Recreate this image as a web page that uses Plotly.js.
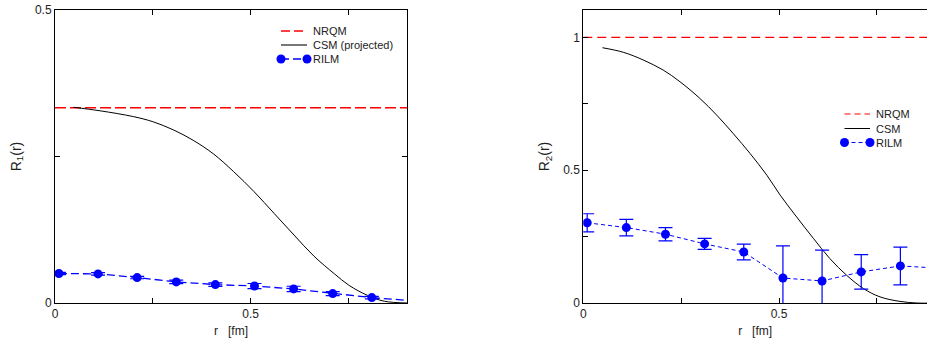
<!DOCTYPE html>
<html>
<head>
<meta charset="utf-8">
<script src="https://cdn.plot.ly/plotly-3.0.1.min.js"></script>
<style>html,body{margin:0;padding:0;overflow:hidden;background:#fff;}</style>
</head>
<body>
<div id="chart" style="width:927px;height:347px;"></div>
<script>
// ---- Left panel: R1(r) ----
const r1NrqmX = [0, 0.9];
const r1NrqmY = [0.3333, 0.3333];
const r1CsmX = [0.047, 0.115, 0.201, 0.252, 0.304, 0.355, 0.406, 0.457, 0.509, 0.560, 0.611, 0.662, 0.714, 0.752, 0.799, 0.842, 0.902];
const r1CsmY = [0.334, 0.328, 0.318, 0.309, 0.295, 0.277, 0.254, 0.224, 0.190, 0.153, 0.116, 0.080, 0.050, 0.030, 0.013, 0.003, 0.0];
const rilmR = [0.01, 0.11, 0.21, 0.31, 0.41, 0.51, 0.61, 0.71, 0.81];
const r1RilmY = [0.0503, 0.0497, 0.0434, 0.0360, 0.0314, 0.0290, 0.0240, 0.0160, 0.0092];
const r1RilmErr = [0.002, 0.002, 0.002, 0.003, 0.003, 0.0043, 0.0046, 0.0035, 0.002];
const r1RilmTailX = [0.81, 0.91];
const r1RilmTailY = [0.0092, 0.0040];

// ---- Right panel: R2(r) ----
const r2NrqmX = [0, 0.9];
const r2NrqmY = [1.0, 1.0];
const r2CsmX = [0.049, 0.102, 0.153, 0.204, 0.247, 0.298, 0.341, 0.383, 0.426, 0.469, 0.503, 0.545, 0.588, 0.630, 0.673, 0.716, 0.758, 0.809, 0.852, 0.9];
const r2CsmY = [0.961, 0.944, 0.915, 0.877, 0.833, 0.770, 0.707, 0.638, 0.563, 0.481, 0.406, 0.324, 0.243, 0.167, 0.104, 0.054, 0.023, 0.006, 0.0, 0.0];
const r2RilmY = [0.302, 0.284, 0.259, 0.2225, 0.192, 0.094, 0.083, 0.117, 0.1395];
const r2RilmErr = [0.034, 0.031, 0.025, 0.021, 0.030, 0.121, 0.116, 0.065, 0.071];
const r2RilmTailX = [0.81, 0.91];
const r2RilmTailY = [0.1395, 0.131];

// tick labels
const xTickVals = [0, 0.5];
const xTickText = ['0', '0.5'];
const y1TickVals = [0, 0.5];
const y1TickText = ['0', '0.5'];
const y2TickVals = [0, 0.5, 1];
const y2TickText = ['0', '0.5', '1'];

// legend labels
const leg1Names = ['NRQM', 'CSM (projected)', 'RILM'];
const leg2Names = ['NRQM', 'CSM', 'RILM'];

const BLUE = '#0000ff';
const RED = '#ff0000';
const FONT = 'Liberation Sans, Arial, sans-serif';

const traces = [
  {x: r1NrqmX, y: r1NrqmY, xaxis: 'x', yaxis: 'y', mode: 'lines', name: leg1Names[0],
   line: {color: RED, width: 1.6, dash: '11px,4px'}},
  {x: r1CsmX, y: r1CsmY, xaxis: 'x', yaxis: 'y', mode: 'lines', name: leg1Names[1],
   line: {color: '#000', width: 1, shape: 'spline'}},
  {x: r1RilmTailX, y: r1RilmTailY, xaxis: 'x', yaxis: 'y', mode: 'lines', name: 'RILM tail',
   line: {color: BLUE, width: 1.3, dash: '8px,4px'}},
  {x: rilmR, y: r1RilmY, xaxis: 'x', yaxis: 'y', mode: 'lines+markers', name: leg1Names[2],
   line: {color: BLUE, width: 1.3, dash: '8px,4px'},
   marker: {color: BLUE, size: 9},
   error_y: {type: 'data', array: r1RilmErr, visible: true, color: BLUE, thickness: 1.2, width: 7}},

  {x: r2NrqmX, y: r2NrqmY, xaxis: 'x2', yaxis: 'y2', mode: 'lines', name: leg2Names[0],
   line: {color: RED, width: 1.2, dash: '9px,5px'}},
  {x: r2CsmX, y: r2CsmY, xaxis: 'x2', yaxis: 'y2', mode: 'lines', name: leg2Names[1],
   line: {color: '#000', width: 1, shape: 'spline'}},
  {x: r2RilmTailX, y: r2RilmTailY, xaxis: 'x2', yaxis: 'y2', mode: 'lines', name: 'RILM tail',
   line: {color: BLUE, width: 1, dash: '4px,3px'}},
  {x: rilmR, y: r2RilmY, xaxis: 'x2', yaxis: 'y2', mode: 'lines+markers', name: leg2Names[2],
   line: {color: BLUE, width: 1, dash: '4px,3px'},
   marker: {color: BLUE, size: 9},
   error_y: {type: 'data', array: r2RilmErr, visible: true, color: BLUE, thickness: 1.2, width: 7}}
];

const axBase = {
  showline: true, linecolor: '#000', linewidth: 1, showgrid: false, zeroline: false,
  ticks: 'inside', ticklen: 5, tickcolor: '#000', tickwidth: 1,
  tickfont: {family: FONT, size: 12, color: '#222'}, tickmode: 'array', fixedrange: true,
  minor: {dtick: 0.25, tick0: 0, ticks: 'inside', ticklen: 5, tickcolor: '#000', tickwidth: 1, showgrid: false}
};

// ---- hand-drawn legend (gnuplot style: key sample with markers at both ends) ----
const ML = 55, MT = 10, PW = 872, PH = 293;
const px2x = p => (p - ML) / PW;
const px2y = p => (MT + PH - p) / PH;

function legendBlock(x0, x1, ys, names, styles) {
  const shapes = [], annos = [];
  names.forEach((nm, i) => {
    const st = styles[i];
    shapes.push({type: 'line', xref: 'paper', yref: 'paper', x0: px2x(x0), x1: px2x(x1), y0: px2y(ys[i]), y1: px2y(ys[i]),
      line: {color: st.color, width: st.width, dash: st.dash}});
    if (st.marker) {
      [x0, x1].forEach(xx => shapes.push({type: 'circle', xref: 'paper', yref: 'paper',
        xsizemode: 'pixel', ysizemode: 'pixel', xanchor: px2x(xx), yanchor: px2y(ys[i]),
        x0: -4.5, x1: 4.5, y0: -4.5, y1: 4.5, fillcolor: BLUE, line: {color: BLUE, width: 0}}));
    }
    annos.push({xref: 'paper', yref: 'paper', x: px2x(x1 + 4), y: px2y(ys[i]), xanchor: 'left', yanchor: 'middle',
      showarrow: false, text: nm, font: {family: FONT, size: 11, color: '#222'}});
  });
  return {shapes, annos};
}

const leg1 = legendBlock(281, 307, [31, 45, 59], leg1Names, [
  {color: RED, width: 1.6, dash: '9px,4px'},
  {color: '#555', width: 1.6, dash: 'solid'},
  {color: BLUE, width: 1.3, dash: '8px,4px', marker: true}
]);
const leg2 = legendBlock(844.5, 870, [114, 128.5, 142.5], leg2Names, [
  {color: RED, width: 1.2, dash: '6px,4px'},
  {color: '#000', width: 1, dash: 'solid'},
  {color: BLUE, width: 1, dash: '4px,3px', marker: true}
]);

const layout = {
  width: 927, height: 347,
  margin: {l: 55, r: 0, t: 10, b: 44},
  paper_bgcolor: '#fff', plot_bgcolor: '#fff',
  font: {family: FONT, size: 12, color: '#222'},
  showlegend: false,
  xaxis: Object.assign({}, axBase, {domain: [0, 0.4037], range: [0, 0.9], mirror: 'allticks',
    tickvals: xTickVals, ticktext: xTickText, anchor: 'y',
    title: {text: 'r&nbsp;&nbsp;&nbsp;[fm]', font: {family: FONT, size: 12, color: '#222'}, standoff: 6}}),
  yaxis: Object.assign({}, axBase, {domain: [0, 1], range: [0, 0.5], mirror: 'allticks',
    tickvals: y1TickVals, ticktext: y1TickText, anchor: 'x',
    title: {text: 'R<sub>1</sub>(r)', font: {family: FONT, size: 14, color: '#222'}, standoff: 10}}),
  xaxis2: Object.assign({}, axBase, {domain: [0.6058, 1], range: [0, 0.878], mirror: 'allticks',
    tickvals: xTickVals, ticktext: xTickText, anchor: 'y2',
    title: {text: 'r&nbsp;&nbsp;&nbsp;[fm]', font: {family: FONT, size: 12, color: '#222'}, standoff: 6}}),
  yaxis2: Object.assign({}, axBase, {domain: [0, 1], range: [0, 1.103], mirror: false,
    tickvals: y2TickVals, ticktext: y2TickText, anchor: 'x2',
    title: {text: 'R<sub>2</sub>(r)', font: {family: FONT, size: 14, color: '#222'}, standoff: 10}}),
  shapes: leg1.shapes.concat(leg2.shapes),
  annotations: leg1.annos.concat(leg2.annos)
};

Plotly.newPlot('chart', traces, layout, {displayModeBar: false, staticPlot: true});
</script>
</body>
</html>
